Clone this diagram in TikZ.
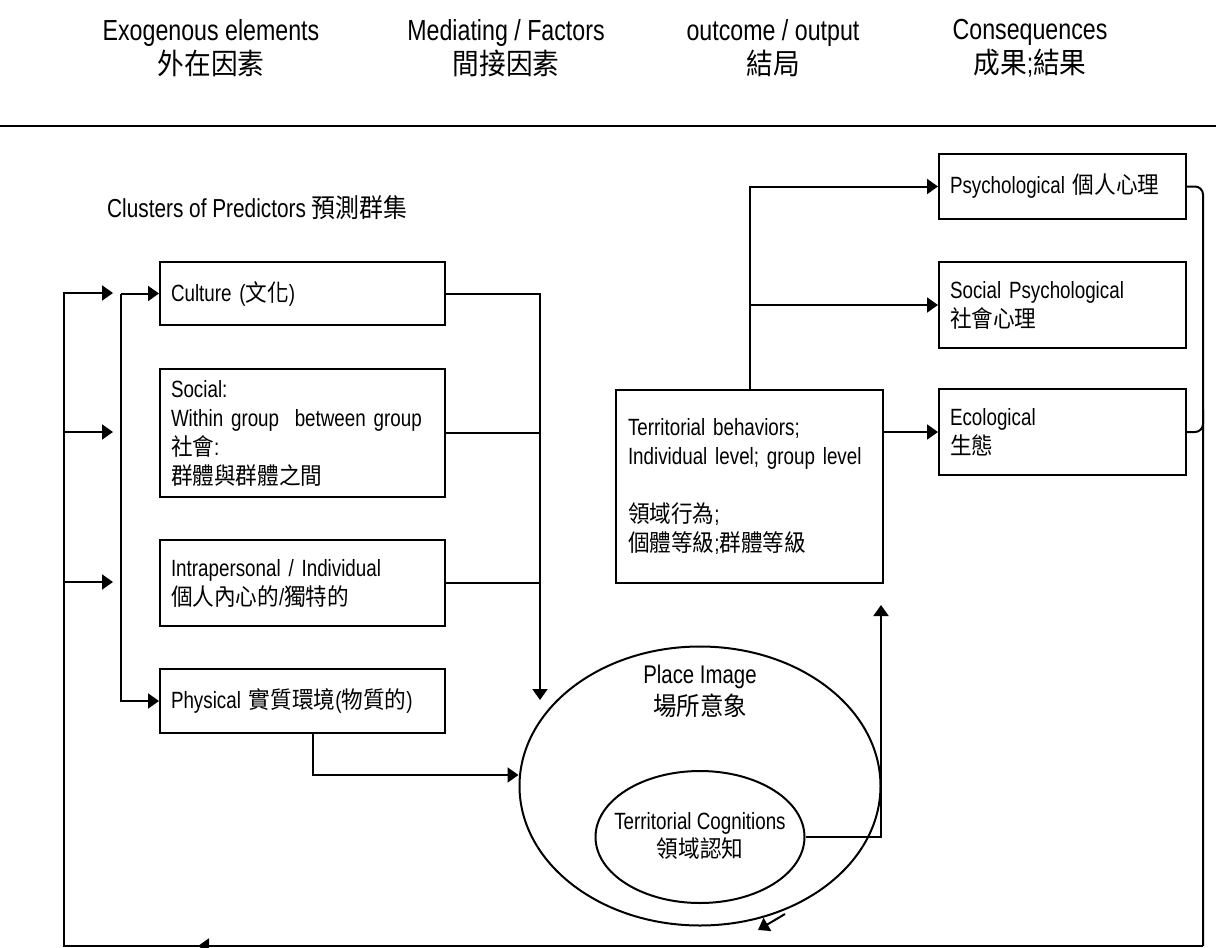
\documentclass[tikz,border=0pt]{standalone}
\usepackage{fontspec}
\setmainfont{Liberation Sans}[FakeStretch=0.8]
\newfontfamily\cjk{Noto Sans CJK TC}[FakeStretch=0.92]
\newcommand{\zh}[1]{{\cjk #1}}
\usetikzlibrary{arrows.meta,shapes.geometric}

\tikzset{
  head/.style={align=center,inner sep=0pt,font=\fontsize{29}{34}\selectfont},
  blk/.style={draw,line width=2pt,anchor=north west,align=left,inner xsep=11pt,inner ysep=0pt,
    font=\fontsize{23.5}{29}\selectfont},
  wire/.style={line width=2pt},
  arr/.style={line width=2pt,-{Triangle[length=11pt,width=15pt]}},
}

\begin{document}
\begin{tikzpicture}[x=1pt,y=-1pt]
\useasboundingbox (0,0) rectangle (1216,948);

% column heads
\node[head] (exo)  at (211,48)  {Exogenous elements\\\zh{外在因素}};
\node[head] (med)  at (506,48)  {Mediating / Factors\\\zh{間接因素}};
\node[head] (outc) at (773,48)  {outcome / output\\\zh{結局}};
\node[head] (cons) at (1030,48) {Consequences\\\zh{成果};\zh{結果}};
\draw[line width=2.8pt] (0,126) -- (1216,126);
\node[anchor=west,inner sep=0pt,font=\fontsize{26}{30}\selectfont] (clus) at (107,208) {Clusters of Predictors \zh{預測群集}};

% predictors
\node[blk,minimum width=285pt,minimum height=63pt,text width=263pt] (cult) at (159,261) {Culture (\zh{文化})};
\node[blk,minimum width=285pt,minimum height=128pt,text width=263pt] (soc) at (159,368)
  {Social:\\Within group~ between group\\\zh{社會}:\\\zh{群體與群體之間}};
\node[blk,minimum width=285pt,minimum height=86pt,text width=263pt] (intra) at (159,539)
  {Intrapersonal / Individual\\\zh{個人內心的}/\zh{獨特的}};
\node[blk,minimum width=285pt,minimum height=64pt,text width=263pt] (phys) at (159,668)
  {Physical \zh{實質環境}(\zh{物質的})};

% place image
\node[draw,ellipse,line width=2pt,minimum width=361pt,minimum height=279pt,inner sep=0pt] (place) at (700,786) {};
\node[align=center,inner sep=0pt,font=\fontsize{25.5}{32}\selectfont] (placetxt) at (700,691) {Place Image\\\zh{場所意象}};
\node[draw,ellipse,line width=2pt,minimum width=209pt,minimum height=132pt,inner sep=0pt] (cog) at (700,837) {};
\node[align=center,inner sep=0pt,font=\fontsize{23.5}{28}\selectfont] (cogtxt) at (700,836) {Territorial Cognitions\\\zh{領域認知}};

% behaviours and consequences
\node[blk,minimum width=267pt,minimum height=193pt,text width=243pt] (terr) at (615,389)
  {Territorial behaviors;\\Individual level; group level\\[29pt]\zh{領域行為};\\\zh{個體等級};\zh{群體等級}};
\node[blk,minimum width=247pt,minimum height=65pt,text width=225pt] (psy) at (938,153) {Psychological \zh{個人心理}};
\node[blk,minimum width=247pt,minimum height=86pt,text width=225pt] (socp) at (938,261)
  {Social Psychological\\\zh{社會心理}};
\node[blk,minimum width=247pt,minimum height=86pt,text width=225pt] (eco) at (938,388)
  {Ecological\\\zh{生態}};

% points
\coordinate (drop) at (540,700);
\coordinate (up) at (881,605);
\coordinate (se) at (1203,946);
\coordinate (sw) at (64,946);
\coordinate (ej) at (1203,410);
\coordinate (in1) at (113,293);
\coordinate (in2) at (113,432);
\coordinate (in3) at (113,582);
\coordinate (fb1) at (198,946);
\coordinate (fb2) at (758,930);
\path (cult.west) ++(-38,0) coordinate (bus);

% predictors to place image
\draw[arr] (cult.east) -| (drop);
\draw[wire] (soc.east) -- (soc.east -| drop);
\draw[wire] (intra.east) -- (intra.east -| drop);
\draw[arr] ([xshift=10pt]phys.south) |- ([yshift=11pt]place.west);
\draw[arr] (bus) -- (cult.west);
\draw[arr] (bus) |- (phys.west);

% cognitions to behaviours
\draw[arr] (cog.east) -| (up);
\draw[arr] (terr.north) |- (psy.west);
\draw[arr] (terr.north |- socp.west) -- (socp.west);
\draw[arr] (terr.east |- eco.west) -- (eco.west);

% feedback
\draw[wire,rounded corners=8pt] (psy.east) -| (se);
\draw[wire,rounded corners=8pt] (eco.east) -| (ej);
\draw[arr] (se) -- (sw) |- (in1);
\draw[arr] (sw |- in2) -- (in2);
\draw[arr] (sw |- in3) -- (in3);
\draw[arr] ([xshift=30pt]fb1) -- (fb1);
\draw[arr] ([xshift=27pt,yshift=16pt]fb2) -- (fb2);
\end{tikzpicture}
\end{document}
